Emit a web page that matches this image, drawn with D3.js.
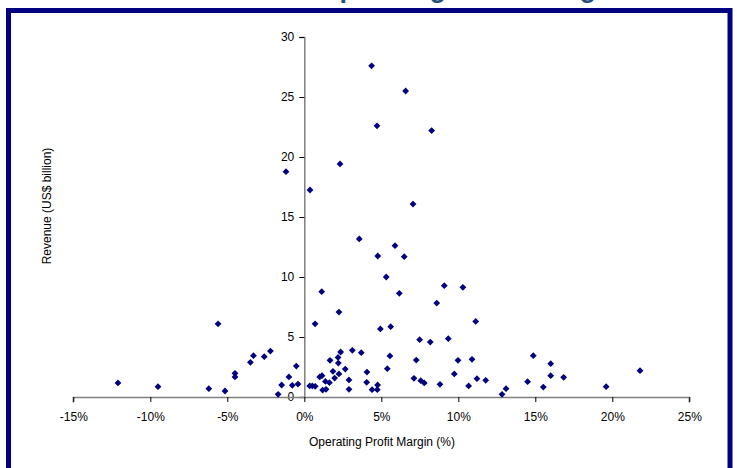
<!DOCTYPE html>
<html lang="en">
<head>
    <meta charset="UTF-8">
    <title>Revenue vs Operating Profit Margin</title>
    <script src="https://d3js.org/d3.v7.min.js"></script>
    <style>
        body { margin: 0; background: #fff; }
        svg { display: block; font-family: "Liberation Sans", Arial, sans-serif; }
    </style>
</head>
<body>
    <div id="chart"></div>

    <script>
        // operating profit margin (%) and revenue (US$ billion), one entry per company
        const margins = [
            -12.1, -9.5, -6.2, -5.6, -5.15, -4.5, -4.5, -3.5, -3.3, -2.6, -2.2, -1.7, -1.47, -1.0,
            -0.78, -0.52, -0.41, -1.19, 0.35, 0.52, 0.71, 0.7, 0.37, 1.0, 1.15, 1.19, 1.41, 1.37,
            1.13, 1.63, 1.67, 1.86, 1.97, 2.21, 2.19, 2.36, 2.25, 2.25, 2.32, 2.66, 2.9, 2.9, 3.12,
            3.57, 3.7, 4.07, 4.05, 4.4, 4.74, 4.76, 4.37, 4.72, 4.77, 4.94, 5.32, 5.39, 5.56, 5.61,
            5.89, 6.17, 6.49, 6.58, 7.06, 7.12, 7.27, 7.49, 7.56, 7.79, 8.18, 8.27, 8.6, 8.81, 9.09,
            9.35, 9.74, 9.98, 10.3, 10.67, 10.89, 11.13, 11.21, 11.78, 12.84, 13.1, 14.5, 14.87,
            15.52, 16.0, 16.0, 16.84, 19.6, 21.8
        ];
        const revenues = [
            1.17, 0.86, 0.69, 6.1, 0.5, 1.97, 1.67, 2.89, 3.44, 3.36, 3.83, 0.22, 1.0, 1.67,
            0.97, 2.58, 1.08, 18.78, 0.92, 0.92, 0.89, 6.1, 17.25, 1.67, 1.78, 0.58, 0.64, 1.3,
            8.78, 1.19, 3.06, 2.14, 1.58, 2.83, 3.3, 3.75, 1.92, 7.08, 19.42, 2.33, 1.42, 0.64, 3.89,
            13.17, 3.69, 2.08, 1.22, 0.61, 0.61, 1.0, 27.6, 22.6, 11.75, 5.67, 10.0, 2.36, 3.42, 5.86,
            12.61, 8.64, 11.69, 25.5, 16.08, 1.56, 3.08, 4.78, 1.36, 1.17, 4.58, 22.2, 7.83, 1.06, 9.28,
            4.86, 1.92, 3.06, 9.14, 0.92, 3.14, 6.3, 1.53, 1.39, 0.22, 0.69, 1.28, 3.44,
            0.83, 2.78, 1.78, 1.64, 0.86, 2.19
        ];
        const xTicks = [-15, -10, -5, 0, 5, 10, 15, 20, 25];
        const yTicks = [0, 5, 10, 15, 20, 25, 30];

        const width = 737, height = 468;
        const navy = "#000080";
        const axisGrey = "#808080";

        const svg = d3.select("#chart")
            .append("svg")
            .attr("width", width)
            .attr("height", height);

        // chart frame (bottom edge runs off the picture)
        svg.append("rect")
            .attr("x", 8.5)
            .attr("y", 10.5)
            .attr("width", 721.5)
            .attr("height", 480)
            .attr("fill", "none")
            .attr("stroke", navy)
            .attr("stroke-width", 5);

        // title, mostly above the visible area
        svg.append("text")
            .attr("x", 161)
            .attr("y", -3)
            .attr("fill", "#1F4E79")
            .style("font-size", "27px")
            .style("font-weight", "bold")
            .text("Revenue vs Operating Profit Margin");

        const x = d3.scaleLinear().domain([-15, 25]).range([73.3, 689.3]);
        const y = d3.scaleLinear().domain([0, 30]).range([397, 37]);

        // y axis crosses at 0%
        const yAxis = svg.append("g")
            .attr("transform", `translate(${x(0)},0)`)
            .call(d3.axisLeft(y).tickValues(yTicks).tickSize(5).tickPadding(5).tickFormat(d3.format("d")));

        // x axis crosses at 0
        const xAxis = svg.append("g")
            .attr("transform", `translate(0,${y(0)})`)
            .call(d3.axisBottom(x).tickValues(xTicks).tickSize(5).tickPadding(10).tickFormat(d => d + "%"));

        [xAxis, yAxis].forEach(g => {
            g.select(".domain").attr("stroke", axisGrey).attr("stroke-width", 1.5);
            g.selectAll(".tick line").attr("stroke", "#000");
            g.selectAll("text")
                .attr("fill", "#000")
                .style("font-size", "12px")
                .style("font-family", "'Liberation Sans', Arial, sans-serif");
        });
        xAxis.select(".domain").attr("d", `M${x(-15)},0.5V5.5V0.5H${x(25)}V5.5V0.5`);

        // diamond markers
        const points = margins.map((m, i) => ({ m: m, r: revenues[i] }));
        svg.selectAll("path.pt")
            .data(points)
            .enter()
            .append("path")
            .attr("class", "pt")
            .attr("transform", d => `translate(${x(d.m)},${y(d.r)})`)
            .attr("d", "M0,-3.4L3.4,0L0,3.4L-3.4,0Z")
            .attr("fill", navy);

        // axis titles
        svg.append("text")
            .attr("x", 382)
            .attr("y", 446)
            .attr("text-anchor", "middle")
            .style("font-size", "12px")
            .text("Operating Profit Margin (%)");

        svg.append("text")
            .attr("transform", "translate(51,206) rotate(-90)")
            .attr("text-anchor", "middle")
            .style("font-size", "12px")
            .text("Revenue (US$ billion)");
    </script>
</body>
</html>
